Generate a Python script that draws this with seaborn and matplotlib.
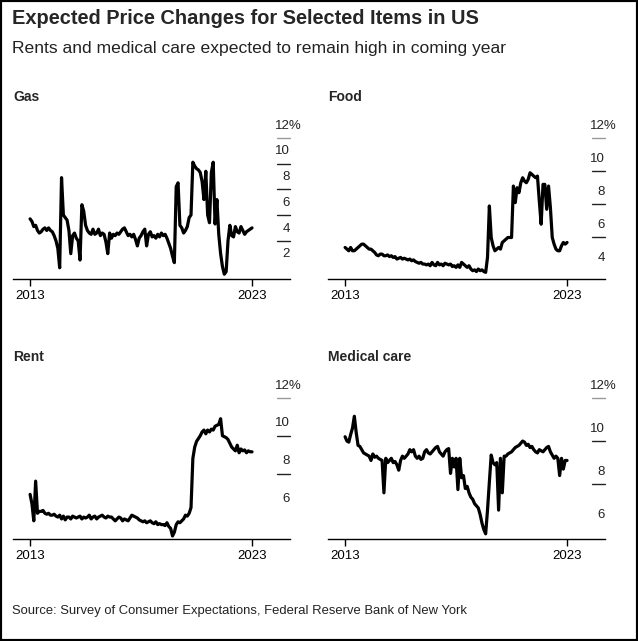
import numpy as np
import pandas as pd
import seaborn as sns
import matplotlib.pyplot as plt
from matplotlib.patches import Rectangle

# monthly expectations, Jan 2013 .. Jan 2023 (percent)
GAS = [
    5.7, 5.5, 5.1, 5.2, 4.8, 4.6, 4.7, 4.9, 5.0, 4.8, 5.0, 4.8,
    4.7, 4.4, 4.0, 3.4, 1.9, 8.9, 6.0, 5.8, 5.6, 4.8, 3.0, 4.4,
    4.6, 4.2, 4.0, 2.5, 6.8, 6.3, 5.2, 4.8, 4.6, 4.5, 4.9, 4.5,
    4.6, 4.9, 4.4, 4.6, 4.5, 3.9, 3.0, 4.6, 4.2, 4.5, 4.4, 4.6,
    4.5, 4.7, 4.9, 5.0, 4.7, 4.4, 4.5, 4.3, 4.5, 4.1, 3.6, 4.2,
    4.4, 4.7, 4.9, 3.6, 4.5, 4.7, 4.3, 4.4, 4.2, 4.5, 4.3, 4.6,
    4.4, 4.5, 4.2, 3.8, 3.4, 2.8, 2.3, 8.2, 8.5, 5.2, 5.0, 4.6,
    4.8, 5.1, 5.8, 6.0, 10.1, 9.8, 9.6, 9.5, 9.3, 8.6, 7.2, 9.4,
    6.0, 5.4, 9.3, 10.1, 5.3, 7.2, 4.5, 3.0, 2.0, 1.4, 1.6, 4.0,
    5.2, 4.4, 4.3, 5.1, 4.7, 4.6, 5.1, 4.8, 4.5, 4.7, 4.8, 4.9,
    5.0,
]
FOOD = [
    5.4, 5.3, 5.2, 5.4, 5.2, 5.2, 5.3, 5.4, 5.5, 5.6, 5.6, 5.5,
    5.4, 5.3, 5.3, 5.2, 5.1, 4.95, 4.9, 5.0, 5.0, 4.9, 4.9, 4.95,
    4.85, 4.9, 4.8, 4.85, 4.7, 4.75, 4.8, 4.7, 4.75, 4.7, 4.65, 4.7,
    4.6, 4.65, 4.55, 4.5, 4.45, 4.5, 4.4, 4.4, 4.35, 4.4, 4.3, 4.5,
    4.35, 4.3, 4.5, 4.35, 4.4, 4.3, 4.45, 4.4, 4.35, 4.4, 4.25, 4.3,
    4.2, 4.35, 4.2, 4.5, 4.4, 4.3, 4.2, 4.3, 4.1, 4.0, 4.05, 3.95,
    4.1, 4.0, 4.05, 3.95, 3.9, 4.8, 7.9, 6.0, 5.5, 5.2, 5.3, 5.4,
    5.3, 5.7, 5.8, 5.9, 6.0, 6.0, 6.0, 9.1, 8.1, 9.0, 8.7, 9.3,
    9.6, 9.4, 9.3, 9.5, 9.9, 9.8, 9.7, 9.6, 9.7, 8.2, 6.8, 9.2,
    9.2, 7.7, 9.1, 7.8, 6.0, 5.6, 5.3, 5.2, 5.2, 5.5, 5.7, 5.6,
    5.7,
]
RENT = [
    6.9, 6.4, 5.5, 7.6, 5.9, 6.0, 6.0, 6.05, 5.9, 5.85, 5.9, 5.8,
    5.8, 5.85, 5.75, 5.7, 5.8, 5.6, 5.75, 5.55, 5.7, 5.7, 5.6, 5.75,
    5.7, 5.65, 5.7, 5.75, 5.6, 5.7, 5.65, 5.7, 5.8, 5.6, 5.7, 5.75,
    5.6, 5.7, 5.75, 5.8, 5.7, 5.65, 5.75, 5.7, 5.7, 5.6, 5.5, 5.6,
    5.7, 5.65, 5.5, 5.6, 5.55, 5.5, 5.65, 5.8, 5.75, 5.7, 5.65, 5.55,
    5.5, 5.45, 5.5, 5.4, 5.45, 5.5, 5.4, 5.35, 5.45, 5.3, 5.35, 5.3,
    5.3, 5.25, 5.4, 5.2, 5.1, 4.7, 4.9, 5.3, 5.45, 5.4, 5.5, 5.6,
    5.8, 5.75, 5.9, 6.2, 8.8, 9.4, 9.7, 9.85, 10.0, 10.2, 10.3, 10.1,
    10.3, 10.2, 10.35, 10.3, 10.5, 10.55, 10.6, 10.9, 10.0, 9.95, 9.9, 9.8,
    9.6, 9.4, 9.3, 9.2, 9.5, 9.1, 9.3, 9.2, 9.25, 9.1, 9.2, 9.15,
    9.15,
]
MEDICAL = [
    10.2, 10.0, 9.95, 10.3, 10.6, 11.15, 10.4, 9.8, 9.75, 9.6, 9.45, 9.4,
    9.35, 9.3, 9.1, 9.4, 9.25, 9.3, 9.2, 9.15, 9.1, 7.6, 9.2, 9.0,
    9.1, 9.2, 9.0, 9.05, 8.9, 8.65, 9.1, 9.3, 9.2, 9.3, 9.4, 9.6,
    9.5, 9.6, 9.3, 9.2, 9.3, 9.15, 9.2, 9.5, 9.6, 9.45, 9.4, 9.5,
    9.6, 9.7, 9.75, 9.5, 9.4, 9.3, 9.5, 9.6, 9.65, 8.5, 9.2, 8.8,
    9.2, 7.75, 9.2, 8.3, 8.4, 7.8, 7.9, 7.6, 7.4, 7.3, 7.1, 7.0,
    6.9, 6.6, 6.2, 5.9, 5.7, 6.8, 8.1, 9.35, 9.0, 8.9, 9.0, 6.8,
    9.2, 7.6, 9.3, 9.3, 9.4, 9.45, 9.5, 9.6, 9.7, 9.75, 9.8, 9.9,
    10.0, 9.95, 9.8, 9.85, 9.7, 9.75, 9.6, 9.5, 9.45, 9.6, 9.55, 9.5,
    9.6, 9.7, 9.75, 9.5, 9.35, 9.2, 9.3, 9.2, 8.4, 9.2, 8.7, 9.1,
    9.1,
]

PANELS = [
    # name, values, y ticks, ylim, (left, top px)
    ('Gas', GAS, [12, 10, 8, 6, 4, 2], (1.03, 14.0), (13, 112)),
    ('Food', FOOD, [12, 10, 8, 6, 4], (3.5, 13.56), (328, 112)),
    ('Rent', RENT, [12, 10, 8, 6], (4.54, 13.37), (13, 372)),
    ('Medical care', MEDICAL, [12, 10, 8, 6], (5.46, 13.2), (328, 372)),
]

W, H = 638, 641
FONT = ['Liberation Sans', 'DejaVu Sans']

sns.set_theme(style='white')
plt.rcParams['font.family'] = FONT

fig = plt.figure(figsize=(W / 100, H / 100), dpi=100)
years = 2013 + np.arange(len(GAS)) / 12

for name, values, ticks, ylim, (left, top) in PANELS:
    bottom = top + 167
    ax = fig.add_axes([left / W, 1 - bottom / H, 277 / W, 167 / H])
    df = pd.DataFrame({'year': years, 'value': values})
    sns.lineplot(data=df, x='year', y='value', color='black', linewidth=2.3, ax=ax)
    ax.set_xlim(2012.23, 2024.71)
    ax.set_ylim(*ylim)
    sns.despine(ax=ax, left=True, right=True, top=True)
    ax.spines['bottom'].set_color('black')
    ax.spines['bottom'].set_linewidth(1)
    ax.set_yticks([])
    ax.set_xticks([2013, 2023])
    ax.set_xticklabels(['2013', '2023'])
    ax.tick_params(axis='x', bottom=True, length=5, width=1, color='black',
                   labelsize=9.5, pad=3, labelcolor='black')
    ax.set_xlabel('')
    ax.set_ylabel('')
    tr = ax.get_yaxis_transform()
    for i, t in enumerate(ticks):
        if i < len(ticks) - 1:
            ax.plot([0.953, 1.0], [t, t], transform=tr, clip_on=False,
                    color='#999999' if t == 12 else '#222222', linewidth=1.0)
        label = '%d%%' % t if t == 12 else str(t)
        shift = 8.4 if t == 12 else 0
        ax.annotate(label, xy=(1.0, t), xycoords=tr, xytext=(shift, 4.5),
                    textcoords='offset points', ha='right', va='bottom',
                    fontsize=9.5, color='#222222')
    fig.text(left / W, 1 - (top - 15) / H, name, fontsize=10, fontweight='bold',
             ha='left', va='center')

fig.text(12 / W, 1 - 18 / H, 'Expected Price Changes for Selected Items in US',
         fontsize=14.4, fontweight='bold', ha='left', va='center')
fig.text(12 / W, 1 - 48 / H, 'Rents and medical care expected to remain high in coming year',
         fontsize=12.6, ha='left', va='center', color='#222222')
fig.text(12 / W, 1 - 611 / H, 'Source: Survey of Consumer Expectations, Federal Reserve Bank of New York',
         fontsize=9.4, ha='left', va='center', color='#222222')
fig.patches.append(Rectangle((0, 0), 1, 1, transform=fig.transFigure, fill=False,
                             edgecolor='black', linewidth=3))

fig.savefig('out.png', dpi=100)
